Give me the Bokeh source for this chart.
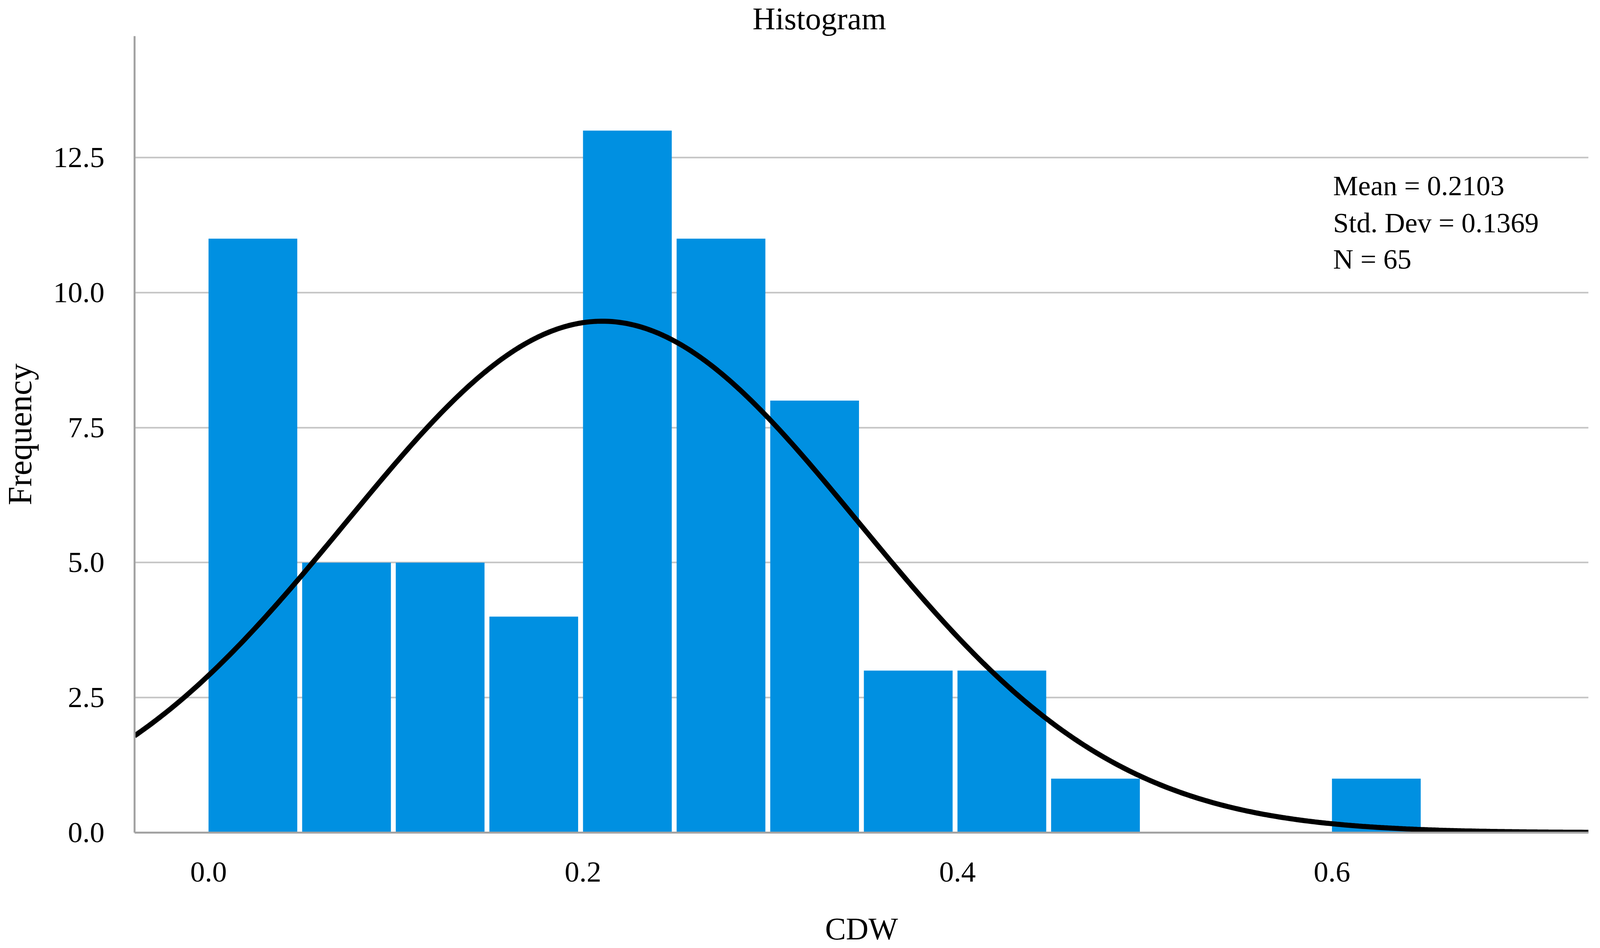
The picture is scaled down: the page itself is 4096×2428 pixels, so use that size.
import math
import numpy as np
from bokeh.plotting import figure
from bokeh.models import Range1d, FixedTicker, NumeralTickFormatter, Label
from bokeh.embed import file_html
from bokeh.resources import INLINE

# ---- data ----
bin_edges = [0.00, 0.05, 0.10, 0.15, 0.20, 0.25, 0.30, 0.35, 0.40, 0.45, 0.50, 0.55, 0.60, 0.65]
counts = [11, 5, 5, 4, 13, 11, 8, 3, 3, 1, 0, 0, 1]
mean_val = 0.2103
std_val = 0.1369
n_val = 65
x_ticks = [0.0, 0.2, 0.4, 0.6]
y_ticks = [0.0, 2.5, 5.0, 7.5, 10.0, 12.5]
stats_lines = ["Mean = 0.2103", "Std. Dev = 0.1369", "N = 65"]

# ---- layout ----
FIG_W, FIG_H = 4080, 2428
X_START, X_END = -0.0395, 0.737
Y_START, Y_END = 0.0, 14.75
REF_X0, REF_XU = 553.0, 4985.0      # reference pixel of x=0, pixels per x unit
REF_Y0, REF_YU = 2216.0, 143.9      # reference pixel of y=0, pixels per y unit


def dx(rx):
    return (rx - REF_X0) / REF_XU


def dy(ry):
    return (REF_Y0 - ry) / REF_YU


FONT = "Liberation Serif"

p = figure(width=FIG_W, height=FIG_H, output_backend="svg", toolbar_location=None,
           x_range=Range1d(X_START, X_END), y_range=Range1d(Y_START, Y_END),
           min_border_left=342, min_border_right=14, min_border_top=89,
           min_border_bottom=FIG_H - 2132)
p.outline_line_color = None
p.background_fill_color = "white"
p.border_fill_color = "white"

# title
p.title.text = "Histogram"
p.title.text_font = FONT
p.title.text_font_size = "81px"
p.title.text_font_style = "normal"
p.title.text_color = "black"
p.title.align = "left"
p.title.offset = 1582
p.title.standoff = 0

# grid
p.xgrid.grid_line_color = None
p.ygrid.ticker = FixedTicker(ticks=y_ticks)
p.ygrid.grid_line_color = "#C4C4C4"
p.ygrid.grid_line_width = 4

# bars (small white gap on the right of each bin)
GAP = 0.0026
lefts = np.array(bin_edges[:-1])
rights = np.array(bin_edges[1:]) - GAP
p.quad(left=lefts, right=rights, bottom=0, top=counts, fill_color="#0090E1", line_color=None)

# fitted normal curve from the displayed statistics
bw = bin_edges[1] - bin_edges[0]
xs = np.linspace(X_START, X_END, 400)
ys = n_val * bw * np.exp(-0.5 * ((xs - mean_val) / std_val) ** 2) / (std_val * math.sqrt(2 * math.pi))
p.line(xs, ys, line_color="black", line_width=13)

# axes
for ax in (p.xaxis, p.yaxis):
    ax.axis_line_color = "#A3A3A3"
    ax.axis_line_width = 5
    ax.major_tick_line_color = None
    ax.minor_tick_line_color = None
    ax.major_label_text_font = FONT
    ax.major_label_text_font_size = "75px"
    ax.major_label_text_color = "black"
    ax.formatter = NumeralTickFormatter(format="0.0")
    ax.axis_label_text_font = FONT
    ax.axis_label_text_font_style = "normal"
    ax.axis_label_text_color = "black"
p.xaxis.ticker = FixedTicker(ticks=x_ticks)
p.yaxis.ticker = FixedTicker(ticks=y_ticks)
p.yaxis.major_label_standoff = 71
p.xaxis.major_label_standoff = 70
p.xaxis.axis_label = "CDW"
p.xaxis.axis_label_text_font_size = "80px"
p.xaxis.axis_label_standoff = 74
p.yaxis.axis_label = "Frequency"
p.yaxis.axis_label_text_font_size = "86px"
p.yaxis.axis_label_standoff = 34

# statistics box text
for t, ry in zip(stats_lines, [493, 591, 688]):
    p.add_layout(Label(x=dx(3547), y=dy(ry), text=t, text_font=FONT,
                       text_font_size="72px", text_align="left", text_baseline="alphabetic",
                       text_color="black"))

open("out.html", "w").write(file_html(p, INLINE))
